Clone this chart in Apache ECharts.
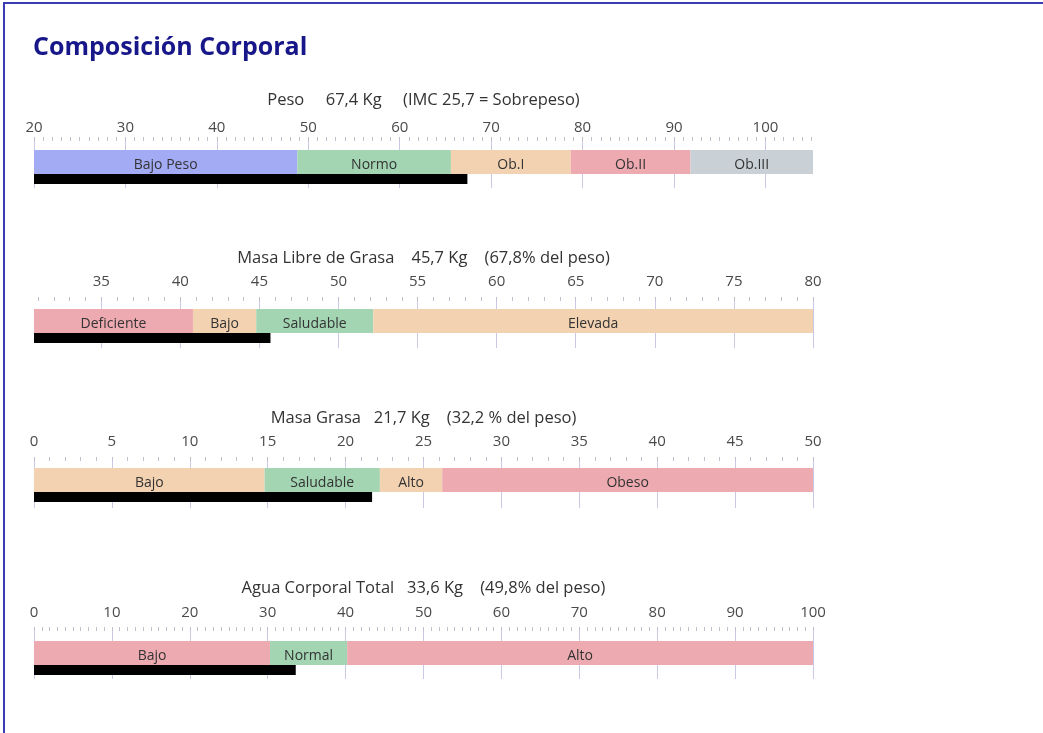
<!DOCTYPE html>
<html>
<head>
<meta charset="utf-8">
<script src="https://cdn.jsdelivr.net/npm/echarts@6/dist/echarts.min.js"></script>
<style>
html,body{margin:0;padding:0;background:#fff;}
#chart{width:1043px;height:733px;}
</style>
</head>
<body>
<div id="chart"></div>
<script>
// ---- data ----
const mainTitle = 'Composición Corporal';
const panelTitles = [
  'Peso     67,4 Kg     (IMC 25,7 = Sobrepeso)',
  'Masa Libre de Grasa    45,7 Kg    (67,8% del peso)',
  'Masa Grasa   21,7 Kg    (32,2 % del peso)',
  'Agua Corporal Total   33,6 Kg    (49,8% del peso)'
];
const measured = [67.4, 45.7, 21.7, 33.6];

const pesoBounds = [20, 48.8, 65.6, 78.7, 91.8, 105.2];
const pesoNames  = ['Bajo Peso', 'Normo', 'Ob.I', 'Ob.II', 'Ob.III'];
const pesoTicks  = [20, 30, 40, 50, 60, 70, 80, 90, 100];

const mlgBounds = [30.75, 40.8, 44.8, 52.2, 80];
const mlgNames  = ['Deficiente', 'Bajo', 'Saludable', 'Elevada'];
const mlgTicks  = [35, 40, 45, 50, 55, 60, 65, 70, 75, 80];

const mgBounds = [0, 14.8, 22.2, 26.2, 50];
const mgNames  = ['Bajo', 'Saludable', 'Alto', 'Obeso'];
const mgTicks  = [0, 5, 10, 15, 20, 25, 30, 35, 40, 45, 50];

const aguaBounds = [0, 30.3, 40.2, 100];
const aguaNames  = ['Bajo', 'Normal', 'Alto'];
const aguaTicks  = [0, 10, 20, 30, 40, 50, 60, 70, 80, 90, 100];

const minorStep = 1;

// ---- styles ----
const C = {
  blue: '#a3abf5', green: '#a3d5b3', peach: '#f2d2b0', pink: '#eeaab1', gray: '#c9d1d6'
};
const panelColors = [
  [C.blue, C.green, C.peach, C.pink, C.gray],
  [C.pink, C.peach, C.green, C.peach],
  [C.peach, C.green, C.peach, C.pink],
  [C.pink, C.green, C.pink]
];
const FONT = '"Open Sans", "Noto Sans", sans-serif';
const TICK_FS = 15;

const panels = [
  {bounds: pesoBounds, names: pesoNames, ticks: pesoTicks},
  {bounds: mlgBounds, names: mlgNames, ticks: mlgTicks},
  {bounds: mgBounds, names: mgNames, ticks: mgTicks},
  {bounds: aguaBounds, names: aguaNames, ticks: aguaTicks}
];
const layout = [
  {titleY: 100, gridTop: 137, barTop: 150, labelY: 128, tickLen: 51},
  {titleY: 258, gridTop: 297, barTop: 309, labelY: 282, tickLen: 51},
  {titleY: 418, gridTop: 457, barTop: 468, labelY: 442, tickLen: 51},
  {titleY: 588, gridTop: 627, barTop: 641, labelY: 613, tickLen: 52}
];
const GRID_LEFT = 34, GRID_RIGHT = 230;
const BAR_H = 24, BLACK_H = 10;

const grids = [], xAxes = [], yAxes = [], series = [];
const graphics = [
  {type: 'polyline', shape: {points: [[4, 733], [4, 3], [1043, 3]]},
   style: {stroke: '#3b3bb5', lineWidth: 2, fill: null}, silent: true},
  {type: 'text', x: 33, y: 48,
   style: {text: mainTitle, font: 'bold 25px ' + FONT, fill: '#17178a', textVerticalAlign: 'middle'}}
];

panels.forEach(function (p, i) {
  const L = layout[i];
  const min = p.bounds[0], max = p.bounds[p.bounds.length - 1];
  const center = L.barTop + (BAR_H + BLACK_H) / 2;
  grids.push({left: GRID_LEFT, right: GRID_RIGHT, top: L.gridTop, height: 2 * (center - L.gridTop), containLabel: false});

  const minor = [];
  for (let v = Math.ceil(min); v <= Math.floor(max); v += minorStep) minor.push(v);

  xAxes.push({
    gridIndex: i, type: 'value', position: 'top', min: min, max: max,
    axisLine: {show: false},
    splitLine: {show: false},
    axisTick: {show: true, inside: true, length: L.tickLen, customValues: p.ticks,
      lineStyle: {color: '#c9c9e6', width: 1}},
    axisLabel: {show: true, customValues: p.ticks, margin: Math.max(0, L.gridTop - L.labelY - TICK_FS / 2),
      color: '#4a4a4a', fontSize: TICK_FS, fontFamily: FONT}
  });
  xAxes.push({
    gridIndex: i, type: 'value', position: 'top', min: min, max: max,
    axisLine: {show: false}, splitLine: {show: false}, axisLabel: {show: false},
    axisTick: {show: true, inside: true, length: 4, customValues: minor,
      lineStyle: {color: '#c0c0cc', width: 1}}
  });
  yAxes.push({gridIndex: i, type: 'category', data: ['v'], show: false});

  const common = {type: 'bar', xAxisIndex: 2 * i, yAxisIndex: i, barGap: 0, clip: true, silent: true};
  // colored ranges
  series.push(Object.assign({}, common, {
    stack: 'r' + i, barWidth: BAR_H, data: [min], itemStyle: {color: 'rgba(0,0,0,0)'}
  }));
  p.names.forEach(function (nm, k) {
    series.push(Object.assign({}, common, {
      name: nm, stack: 'r' + i, barWidth: BAR_H,
      data: [+(p.bounds[k + 1] - p.bounds[k]).toFixed(3)],
      itemStyle: {color: panelColors[i][k]},
      label: {show: true, position: 'inside', formatter: nm, color: '#333',
        fontSize: 14, fontFamily: FONT, offset: [0, 3]}
    }));
  });
  // measured value
  series.push(Object.assign({}, common, {
    stack: 'm' + i, barWidth: BLACK_H, data: [min], itemStyle: {color: 'rgba(0,0,0,0)'}
  }));
  series.push(Object.assign({}, common, {
    stack: 'm' + i, barWidth: BLACK_H, data: [+(measured[i] - min).toFixed(3)],
    itemStyle: {color: '#000'}
  }));

  graphics.push({type: 'text', x: GRID_LEFT + (1043 - GRID_LEFT - GRID_RIGHT) / 2, y: L.titleY,
    style: {text: panelTitles[i], font: '16.5px ' + FONT, fill: '#333',
      textAlign: 'center', textVerticalAlign: 'middle'}});
});

const chart = echarts.init(document.getElementById('chart'));
chart.setOption({
  animation: false,
  backgroundColor: '#fff',
  grid: grids,
  xAxis: xAxes,
  yAxis: yAxes,
  series: series,
  graphic: graphics
});
</script>
</body>
</html>
